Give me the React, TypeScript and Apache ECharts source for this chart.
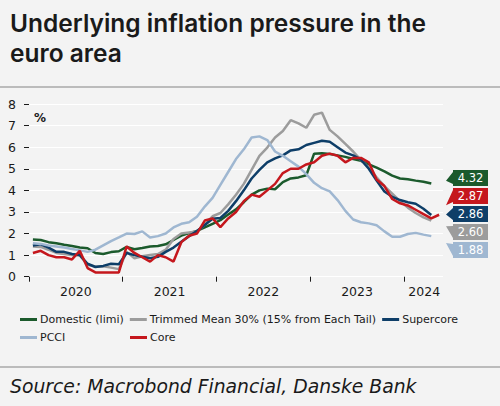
import { useEffect, useRef } from "react";
import * as echarts from "echarts";

// Monthly data, Jan 2020 onwards (index 0 = Jan 2020)
const seriesNames = [
  "Domestic (limi)",
  "Trimmed Mean 30% (15% from Each Tail)",
  "Supercore",
  "PCCI",
  "Core",
];
const seriesColors = ["#1b5a2c", "#9c9c9c", "#0e3e68", "#9fb7d1", "#c5171d"];

const domestic = [
  1.72, 1.7, 1.6, 1.55, 1.48, 1.42, 1.35, 1.32, 1.1, 1.05, 1.14, 1.18,
  1.38, 1.27, 1.33, 1.4, 1.42, 1.5, 1.7, 1.9, 2.02, 2.12, 2.28, 2.45,
  2.62, 2.88, 3.12, 3.45, 3.8, 4.0, 4.08, 4.05, 4.38, 4.55, 4.6, 4.7,
  5.7, 5.72, 5.68, 5.62, 5.55, 5.45, 5.37, 5.2, 5.05, 4.88, 4.68, 4.55,
  4.51, 4.45, 4.4, 4.32,
];
const trimmedMean = [
  1.4, 1.38, 1.25, 1.1, 1.05, 1.0, 0.98, 0.55, 0.47, 0.48, 0.42, 0.35,
  1.15, 0.85, 0.95, 1.0, 1.05, 1.25, 1.75, 2.0, 2.05, 2.1, 2.4, 2.8,
  2.95, 3.35, 3.8, 4.3, 4.95, 5.6, 5.98, 6.45, 6.75, 7.25, 7.1, 6.9,
  7.5, 7.6, 6.8, 6.5, 6.15, 5.8, 5.4, 5.05, 4.6, 4.2, 3.85, 3.5,
  3.2, 2.95, 2.75, 2.6,
];
const supercore = [
  1.45, 1.5, 1.35, 1.15, 1.15, 1.05, 1.0, 0.6, 0.45, 0.5, 0.6, 0.58,
  1.1, 1.0, 0.92, 0.85, 0.92, 1.15, 1.35, 1.62, 1.88, 2.12, 2.4, 2.68,
  2.72, 3.05, 3.5, 4.0, 4.55, 4.95, 5.3, 5.48, 5.62, 5.85, 5.9, 6.1,
  6.2, 6.3, 6.25, 6.0, 5.75, 5.62, 5.42, 5.0, 4.45, 3.95, 3.7, 3.55,
  3.45, 3.38, 3.15, 2.86,
];
const pcci = [
  1.55, 1.52, 1.45, 1.4, 1.35, 1.28, 1.22, 1.15, 1.25, 1.45, 1.65, 1.82,
  2.0, 1.98, 2.1, 1.82, 1.88, 2.0, 2.28, 2.45, 2.52, 2.78, 3.25, 3.65,
  4.25, 4.85, 5.45, 5.9, 6.45, 6.5, 6.33, 5.8, 5.6, 5.35, 5.1, 4.75,
  4.35, 4.1, 3.95, 3.55, 3.05, 2.65, 2.52, 2.47, 2.38, 2.1, 1.85, 1.85,
  1.98, 2.03, 1.95, 1.88,
];
const core = [
  1.1, 1.2, 1.0, 0.9, 0.9, 0.8, 1.2, 0.4, 0.2, 0.2, 0.2, 0.2,
  1.4, 1.1, 0.9, 0.7, 1.0, 0.9, 0.7, 1.6, 1.9, 2.0, 2.6, 2.7,
  2.3, 2.7, 3.0, 3.5, 3.8, 3.7, 4.0, 4.3, 4.8, 5.0, 5.0, 5.2,
  5.3, 5.6, 5.7, 5.6, 5.3, 5.5, 5.5, 5.3, 4.5, 4.2, 3.6, 3.4,
  3.3, 3.1, 2.9, 2.7, 2.87,
];
const allSeries = [domestic, trimmedMean, supercore, pcci, core];

// x axis in months since Jan 2020
const xMin = 0;
const xMax = 53;
const yearTicks = [0, 12, 24, 36, 48];
const yearLabelPos = [6, 18, 30, 42, 50.6];
const yearLabels = ["2020", "2021", "2022", "2023", "2024"];
const yMin = 0;
const yMax = 8;
const yStep = 1;

const FONT = "DejaVu Sans";

function toPoints(arr: number[]) {
  return arr.map((v, i) => [i + 0.5, v]);
}

function layoutTags(ys: number[], gap: number): number[] {
  const idx = ys.map((_, i) => i).sort((a, b) => ys[a] - ys[b]);
  let clusters = idx.map((i) => ({ members: [i], center: ys[i] }));
  let merged = true;
  while (merged) {
    merged = false;
    for (let c = 0; c < clusters.length - 1; c++) {
      const a = clusters[c];
      const b = clusters[c + 1];
      const aBottom = a.center + ((a.members.length - 1) * gap) / 2;
      const bTop = b.center - ((b.members.length - 1) * gap) / 2;
      if (bTop - aBottom < gap) {
        const members = a.members.concat(b.members);
        const center = members.reduce((s, m) => s + ys[m], 0) / members.length;
        clusters.splice(c, 2, { members, center });
        merged = true;
        break;
      }
    }
  }
  const out: number[] = new Array(ys.length);
  clusters.forEach((cl) =>
    cl.members.forEach((m, j) => {
      out[m] = cl.center + (j - (cl.members.length - 1) / 2) * gap;
    })
  );
  return out;
}

export default function App() {
  const ref = useRef<HTMLDivElement>(null);

  useEffect(() => {
    if (!ref.current) return;
    const chart = echarts.init(ref.current, null, { renderer: "svg" });

    const lastPoints = allSeries.map((arr) => [arr.length - 0.5, arr[arr.length - 1]]);

    const lineSeries = allSeries.map((arr, k) => ({
      name: seriesNames[k],
      type: "line",
      data: toPoints(arr),
      showSymbol: false,
      symbol: "none",
      lineStyle: { width: 2.5, color: seriesColors[k] },
      itemStyle: { color: seriesColors[k] },
      z: 2 + k,
    }));

    const tagSeries = {
      type: "custom",
      name: "tags",
      data: lastPoints,
      encode: { x: 0, y: 1 },
      z: 20,
      silent: true,
      renderItem: (params: any, api: any) => {
        const cs = params.coordSys;
        const right = cs.x + cs.width;
        const ys = lastPoints.map((p) => api.coord([xMax, p[1]])[1]);
        const centers = layoutTags(ys, 18);
        const k = params.dataIndex;
        const cy = centers[k];
        const vy = ys[k];
        const h = 16;
        const bx = right + 10;
        const w = 35;
        const tipX = right + 3;
        let dy = (vy - cy) * 0.5;
        dy = Math.max(-10, Math.min(10, dy));
        const tipY = cy + dy;
        const top = cy - h / 2;
        const bottom = cy + h / 2;
        const points = [
          [bx, top],
          [bx + w, top],
          [bx + w, bottom],
          [bx, bottom],
          [bx, cy + 6],
          [tipX, tipY],
          [bx, cy - 6],
        ];
        return {
          type: "group",
          children: [
            { type: "polygon", shape: { points }, style: { fill: seriesColors[k] } },
            {
              type: "text",
              style: {
                text: allSeries[k][allSeries[k].length - 1].toFixed(2),
                x: bx + w / 2,
                y: cy + 0.5,
                fill: "#ffffff",
                fontSize: 11.5,
                fontFamily: FONT,
                align: "center",
                verticalAlign: "middle",
              },
            },
          ],
        };
      },
    };

    const legendCommon = {
      icon: "rect",
      itemWidth: 17,
      itemHeight: 3,
      itemGap: 6,
      padding: 0,
      selectedMode: false,
      textStyle: { fontSize: 11, fontFamily: FONT, color: "#1a1a1a", padding: [0, 0, 0, -2] },
    };

    chart.setOption({
      animation: false,
      backgroundColor: "#f3f3f3",
      textStyle: { fontFamily: FONT },
      title: [
        {
          text: "Underlying inflation pressure in the\neuro area",
          left: 10,
          top: 8,
          padding: 0,
          textStyle: {
            fontFamily: "Inter",
            fontWeight: 600,
            fontSize: 24.5,
            lineHeight: 30,
            color: "#1a1a1a",
          },
        },
        {
          text: "Source: Macrobond Financial, Danske Bank",
          left: 10,
          top: 377,
          padding: 0,
          textStyle: {
            fontFamily: FONT,
            fontStyle: "italic",
            fontWeight: "normal",
            fontSize: 18.8,
            color: "#1a1a1a",
          },
        },
      ],
      graphic: [
        { type: "line", shape: { x1: 0, y1: 87, x2: 500, y2: 87 }, style: { stroke: "#a8a8a8", lineWidth: 1.5 } },
        { type: "line", shape: { x1: 0, y1: 367, x2: 500, y2: 367 }, style: { stroke: "#a8a8a8", lineWidth: 1.5 } },
      ],
      legend: [
        { ...legendCommon, data: seriesNames.slice(0, 3), left: 20, top: 314 },
        { ...legendCommon, data: [seriesNames[3]], left: 20, top: 332 },
        { ...legendCommon, data: [seriesNames[4]], left: 130, top: 332 },
      ],
      grid: { left: 29, right: 57, top: 104, bottom: 129.3 },
      xAxis: {
        type: "value",
        min: xMin,
        max: xMax,
        axisLine: { show: false },
        splitLine: { show: false },
        axisTick: {
          show: true,
          customValues: yearTicks,
          length: 5,
          lineStyle: { color: "#1a1a1a", width: 1 },
        },
        axisLabel: {
          customValues: yearLabelPos,
          formatter: (v: number) => {
            const i = yearLabelPos.indexOf(v);
            return i >= 0 ? yearLabels[i] : "";
          },
          fontSize: 12.5,
          fontFamily: FONT,
          color: "#1a1a1a",
          margin: 8,
        },
      },
      yAxis: {
        type: "value",
        min: yMin,
        max: yMax,
        interval: yStep,
        name: "%",
        nameLocation: "end",
        nameGap: -20,
        nameTextStyle: {
          align: "left",
          padding: [0, 0, 0, 5],
          fontSize: 12,
          fontWeight: "bold",
          fontFamily: FONT,
          color: "#1a1a1a",
        },
        axisLine: { show: false },
        axisTick: { show: true, length: 5, lineStyle: { color: "#1a1a1a", width: 1 } },
        splitLine: { show: true, lineStyle: { color: "#ffffff", width: 1.2 } },
        axisLabel: { fontSize: 12.5, fontFamily: FONT, color: "#1a1a1a", margin: 13 },
      },
      series: [...lineSeries, tagSeries],
    });

    return () => chart.dispose();
  }, []);

  return (
    <div
      ref={ref}
      style={{ position: "fixed", left: 0, top: 0, width: 500, height: 406 }}
    />
  );
}
